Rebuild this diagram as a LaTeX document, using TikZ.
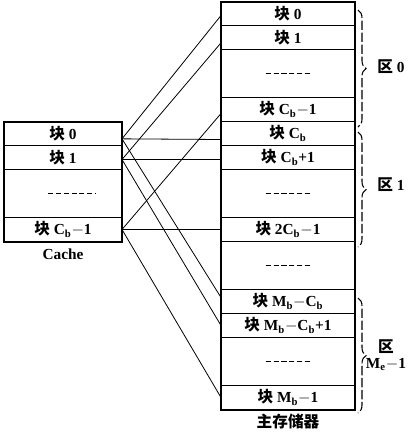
\documentclass[tikz,border=0pt]{standalone}
\usepackage{fontspec}
\setmainfont{Liberation Serif}
\newfontfamily\cjk[Scale=1.02]{Noto Sans CJK SC}
\usepackage{tikz}
\usetikzlibrary{positioning}
\usetikzlibrary{calc}
\usetikzlibrary{decorations.pathreplacing}
\tikzset{row node/.style={draw,line width=0.6pt,minimum width=100.5pt,minimum height=18pt,inner sep=0pt,outer sep=0pt,font=\bfseries\fontsize{11.5}{12}\selectfont},
gap node/.style={row node,minimum height=36pt},
cache node/.style={row node,minimum width=88.5pt},
cache gap/.style={gap node,minimum width=88.5pt},
gap line/.style={line width=0.6pt,dash pattern=on 3.8pt off 2pt},
link/.style={draw,line width=0.6pt},
zone brace/.style={line width=0.8pt,dash pattern=on 7pt off 2pt,decorate,decoration={brace,amplitude=6pt}},
plain label/.style={font=\bfseries\fontsize{11.5}{12}\selectfont,inner sep=0pt}}
\newcommand{\kuai}{{\cjk\bfseries 块}\ }
\newcommand{\qu}{{\cjk\bfseries 区}\ }
\newcommand{\Cb}{C\textsubscript{b}}

\begin{document}
\begin{tikzpicture}[x=0.75pt,y=-0.75pt]
    \useasboundingbox (0,0) rectangle (408,436);
    % main memory
    \node[row node] (mA) at (288,13.5) {\kuai 0};
    \node[row node] (mB) [below=0pt of mA] {\kuai 1};
    \node[gap node] (mC) [below=0pt of mB] {};
    \node[row node] (mD) [below=0pt of mC] {\kuai \Cb$-$1};
    \node[row node] (mE) [below=0pt of mD] {\kuai \Cb};
    \node[row node] (mF) [below=0pt of mE] {\kuai \Cb+1};
    \node[gap node] (mG) [below=0pt of mF] {};
    \node[row node] (mH) [below=0pt of mG] {\kuai 2\Cb$-$1};
    \node[gap node] (mI) [below=0pt of mH] {};
    \node[row node] (mJ) [below=0pt of mI] {\kuai M\textsubscript{b}$-$\Cb};
    \node[row node] (mK) [below=0pt of mJ] {\kuai M\textsubscript{b}$-$\Cb+1};
    \node[gap node] (mL) [below=0pt of mK] {};
    \node[row node] (mM) [below=0pt of mL] {\kuai M\textsubscript{b}$-$1};
    \draw[line width=1.5pt] (mA.north west) rectangle (mM.south east);
    \node[plain label] (mem) [below=3pt of mM] {\cjk\bfseries 主存储器};

    % cache
    \node[cache node] (cA) at (63,133.5) {\kuai 0};
    \node[cache node] (cB) [below=0pt of cA] {\kuai 1};
    \node[cache gap] (cC) [below=0pt of cB] {};
    \node[cache node] (cD) [below=0pt of cC] {\kuai \Cb$-$1};
    \draw[line width=1.5pt] (cA.north west) rectangle (cD.south east);
    \node[plain label] (cache) [below=5pt of cD] {Cache};

    \foreach \g in {mC,mG,mI,mL}
        \draw[gap line] ([xshift=-16.5pt]\g.center) -- ([xshift=16.5pt]\g.center);
    \draw[gap line] ([xshift=-11pt]cC.center) -- ([xshift=24pt]cC.center);

    % zones
    \draw[zone brace] (358,10) -- (358,127);
    \draw[zone brace] (358,132) -- (358,247);
    \draw[zone brace] (358,298) -- (358,413);
    \node[plain label] (q0) at (391,67) {\qu 0};
    \node[plain label] (q1) at (391,185) {\qu 1};
    \node[plain label,align=center] (q2) at (386,355) {{\cjk\bfseries 区}\\M\textsubscript{e}$-$1};

    \path[link]
    ([yshift=-4pt]cA.east) edge ([yshift=-1.5pt]mA.west)
    ([yshift=-4pt]cA.east) edge ([yshift=-4.5pt]mE.west)
    ([yshift=-4pt]cA.east) edge ([yshift=3pt]mJ.west)
    ([yshift=-1.5pt]cB.east) edge ([yshift=-4pt]mB.west)
    ([yshift=-1.5pt]cB.east) edge ([yshift=-1.5pt]mF.west)
    ([yshift=-1.5pt]cB.east) edge (mK.west)
    (cD.east) edge ([yshift=-3pt]mD.west)
    (cD.east) edge (mH.west)
    (cD.east) edge (mM.west);
\end{tikzpicture}
\end{document}
